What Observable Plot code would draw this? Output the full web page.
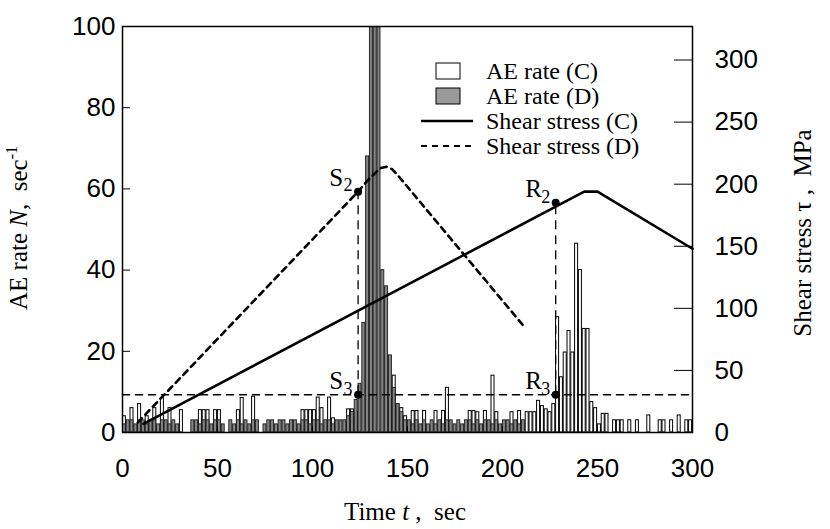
<!DOCTYPE html>
<html>
<head>
<meta charset="utf-8">
<script src="https://cdn.jsdelivr.net/npm/d3@7"></script>
<script src="https://cdn.jsdelivr.net/npm/@observablehq/plot@0.6"></script>
<style>
  html, body { margin: 0; padding: 0; background: #fff; }
  svg { display: block; }
</style>
</head>
<body>
<div id="chart"></div>
<script>
// ---- data ----
const binWidth = 2; // seconds per AE bin
// AE rate (C), bins starting at t = 0, 2, 4, ... 298
const aeC = [
  4,0,6,0,7,0,4,0,6,0,
  8.5,0,6,0,0,5.5,0,0,0,0,
  5.5,5.5,5.5,0,5.5,5.5,0,0,0,0,
  5.5,8.5,0,0,8.8,0,0,0,0,0,
  0,0,0,0,0,0,0,5.5,5.5,5.5,
  5.5,8.6,6,0,8.6,3.5,0,0,0,5.7,
  5.7,5,0,0,0,0,0,0,0,0,
  8,14,7,6,4,0,5.3,5.3,0,5.3,
  0,0,5.3,0,5.3,11,0,0,0,0,
  0,5.3,5.3,5,0,5.3,0,14,5,0,
  0,0,5,0,5.3,0,5,5,5,7.8,
  6.5,5.7,5,7,28.4,13.6,19.7,25,19.7,46.5,
  40,25.5,25.5,7.5,6,2,4.6,4.6,0,3,
  3,3,0,3,0,3,0,0,4.2,0,
  0,3,3,0,3,0,4.2,0,3,3
];
// AE rate (D), bins starting at t = 0, 2, ... 210
const aeD = [
  2,3,3,2,3,3,2,3,3,2,
  3,3,2,3,2,0,0,0,3,3,
  2,3,3,2,3,3,2,0,3,2,
  3,2,3,2,3,3,0,2,3,3,
  2,3,3,2,3,3,2,3,3,2,
  3,3,2,3,3,2,3,3,3,4,
  5,8,12,27,68,120,120,120,40,36,
  19,11,7,5,3,3,2,3,2,3,
  2,3,2,3,2,3,3,2,3,2,
  3,3,2,3,2,3,3,2,3,2,
  3,3,2,3,2,3
];
// Shear stress (C) and (D), MPa
const stressCTime = [11, 243, 250, 300];
const stressCVal  = [7, 194, 194, 148];
const stressDTime = [8, 124, 129, 133, 136, 139, 142, 145, 211];
const stressDVal  = [8, 194, 203, 209, 213, 214, 212, 207, 86];
// horizontal dashed reference level (AE rate)
const refTime = [0, 300];
const refVal  = [9.3, 9.3];
// marked points
const markName   = ["S", "S", "R", "R"];
const markSub    = ["2", "3", "2", "3"];
const markTime   = [124, 124, 228, 228];
const markStress = [194, null, 185, null];
const markAE     = [null, 9.3, null, 9.3];
// axes ticks
const xTicks = [0, 50, 100, 150, 200, 250, 300];
const yTicks = [0, 20, 40, 60, 80, 100];
const stressTicks = [0, 50, 100, 150, 200, 250, 300];
const stressMax = 327; // right axis top
// legend
const legendLabels = ["AE rate (C)", "AE rate (D)", "Shear stress (C)", "Shear stress (D)"];
const legendKinds  = ["boxC", "boxD", "solid", "dash"];

// ---- build ----
const k = 100 / stressMax; // MPa -> AE units for shared y scale
const barsC = aeC.map((v, i) => ({t: i * binWidth, v}));
const barsD = aeD.map((v, i) => ({t: i * binWidth, v}));
const lineC = stressCTime.map((t, i) => ({t, y: stressCVal[i] * k}));
const lineD = stressDTime.map((t, i) => ({t, y: stressDVal[i] * k}));
const refLine = refTime.map((t, i) => ({t, y: refVal[i]}));
const marks = markTime.map((t, i) => ({
  t, name: markName[i], sub: markSub[i],
  y: markStress[i] != null ? markStress[i] * k : markAE[i]
}));
const vlines = [
  {t: markTime[0], y1: marks[1].y, y2: marks[0].y},
  {t: markTime[2], y1: marks[3].y, y2: marks[2].y}
];

const plot = Plot.plot({
  width: 830, height: 529,
  marginLeft: 122, marginRight: 138, marginTop: 26, marginBottom: 97,
  style: {fontFamily: "'Liberation Sans', Arial, sans-serif", background: "#fff"},
  x: {domain: [0, 300]},
  y: {domain: [0, 100]},
  marks: [
    Plot.rect(barsC.filter(d => d.v > 0), {x1: "t", x2: d => d.t + binWidth, y1: 0, y2: "v",
      fill: "#fff", stroke: "#000", strokeWidth: 1, insetLeft: 0.4, insetRight: 0.4, clip: true}),
    Plot.rect(barsD.filter(d => d.v > 0), {x1: "t", x2: d => d.t + binWidth, y1: 0, y2: "v",
      fill: "#858585", stroke: "#1a1a1a", strokeWidth: 0.9, insetLeft: 0.4, insetRight: 0.4, clip: true}),
    Plot.line(refLine, {x: "t", y: "y", stroke: "#000", strokeWidth: 1.6, strokeDasharray: "7,6"}),
    Plot.ruleX(vlines, {x: "t", y1: "y1", y2: "y2", stroke: "#000", strokeWidth: 1.3, strokeDasharray: "9,6"}),
    Plot.line(lineC, {x: "t", y: "y", stroke: "#000", strokeWidth: 2.6}),
    Plot.line(lineD, {x: "t", y: "y", stroke: "#000", strokeWidth: 2.6, strokeDasharray: "6,5"}),
    Plot.dot(marks, {x: "t", y: "y", r: 4, fill: "#000", stroke: "none"}),
    Plot.text(marks, {x: "t", y: "y", text: "name", dx: -22, dy: -14, fontSize: 25,
      fontFamily: "'Liberation Serif', serif", fill: "#000"}),
    Plot.text(marks, {x: "t", y: "y", text: "sub", dx: -10, dy: -6, fontSize: 18,
      fontFamily: "'Liberation Serif', serif", fill: "#000"}),
    Plot.frame({stroke: "#000", strokeWidth: 1.5}),
    Plot.ruleY(yTicks, {y: d => d, x1: 0, x2: 4.2, stroke: "#000", strokeWidth: 1}),
    Plot.ruleY(stressTicks.filter(d => d > 0), {y: d => d * k, x1: 290.5, x2: 300, stroke: "#000", strokeWidth: 1}),
    Plot.ruleX(xTicks, {x: d => d, y1: 0, y2: 1.4, stroke: "#000", strokeWidth: 1}),
    Plot.axisX({ticks: xTicks, tickSize: 0, tickPadding: 26, fontSize: 26, label: null}),
    Plot.axisY({ticks: yTicks, tickSize: 0, tickPadding: 7, fontSize: 26, label: null}),
    Plot.axisY({anchor: "right", ticks: stressTicks.map(d => d * k), tickFormat: d => Math.round(d / k),
      tickSize: 0, tickPadding: 22, fontSize: 26, label: null})
  ]
});
document.getElementById("chart").appendChild(plot);

// ---- titles and legend ----
const svg = d3.select(plot);
const serif = "'Liberation Serif', 'Times New Roman', serif";

const lt = svg.append("text").attr("transform", "translate(27,228) rotate(-90)")
  .attr("text-anchor", "middle").attr("font-family", serif).attr("font-size", 25).attr("fill", "#000");
lt.append("tspan").text("AE rate ");
lt.append("tspan").attr("font-style", "italic").text("N");
lt.append("tspan").text(",  sec");
lt.append("tspan").attr("font-size", 16).attr("dy", -10).text("-1");

const rt = svg.append("text").attr("transform", "translate(811,233) rotate(-90)")
  .attr("text-anchor", "middle").attr("font-family", serif).attr("font-size", 25).attr("fill", "#000");
rt.append("tspan").text("Shear stress \u03C4 ,  MPa");

const xt = svg.append("text").attr("x", 405).attr("y", 520)
  .attr("text-anchor", "middle").attr("font-family", serif).attr("font-size", 25).attr("fill", "#000");
xt.append("tspan").text("Time ");
xt.append("tspan").attr("font-style", "italic").text("t");
xt.append("tspan").text(" ,  sec");

const lg = svg.append("g");
legendLabels.forEach((label, i) => {
  const kind = legendKinds[i];
  const cy = 71 + i * 25;
  if (kind === "boxC" || kind === "boxD") {
    lg.append("rect").attr("x", 436).attr("y", cy - 8).attr("width", 24).attr("height", 16)
      .attr("fill", kind === "boxC" ? "#fff" : "#9a9a9a").attr("stroke", "#000").attr("stroke-width", 1);
  } else {
    lg.append("line").attr("x1", 421).attr("x2", 473).attr("y1", cy).attr("y2", cy)
      .attr("stroke", "#000").attr("stroke-width", kind === "solid" ? 2.6 : 2.2)
      .attr("stroke-dasharray", kind === "dash" ? "6,5" : null);
  }
  lg.append("text").attr("x", 486).attr("y", cy + 8).attr("text-anchor", "start")
    .attr("font-family", serif).attr("font-size", 24).attr("fill", "#000").text(label);
});
</script>
</body>
</html>
